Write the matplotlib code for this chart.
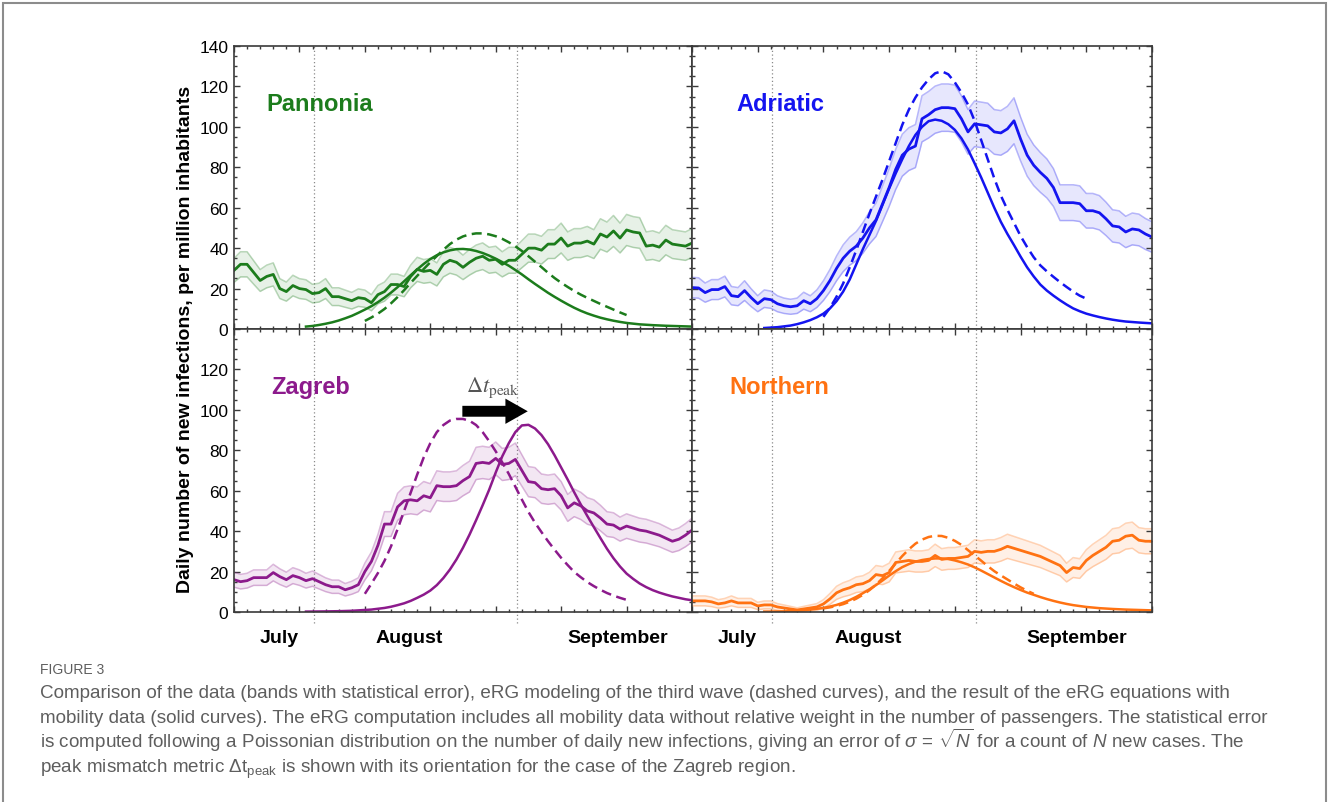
import matplotlib
matplotlib.use('Agg')

import matplotlib.pyplot as plt
import numpy as np
from matplotlib.patches import Rectangle

plt.rcParams['font.family'] = ['Liberation Sans', 'DejaVu Sans']
plt.rcParams['mathtext.fontset'] = 'custom'
plt.rcParams['mathtext.rm'] = 'Liberation Sans'
plt.rcParams['mathtext.it'] = 'Liberation Sans:italic'
plt.rcParams['mathtext.bf'] = 'Liberation Sans:bold'

# days counted from the left edge of each panel (about 20 July)
days = np.arange(71)
aug1 = 12.2
sep1 = 43.2

pannonia_data = [29, 32, 32, 28, 24, 26, 27, 20, 18.5, 21.5,
                 20, 19.5, 17.5, 18, 20, 16, 16, 15, 14, 15.5,
                 15, 13, 17, 18.5, 22, 22, 21, 26, 29.5, 28.5,
                 29, 27, 32, 34, 33, 30.5, 33, 35, 36, 34,
                 34.5, 32, 34, 34, 37, 40, 40, 39, 42, 42,
                 45, 41, 42.5, 42.5, 43.5, 42, 47, 45.5, 48.5, 45,
                 49, 48, 47.5, 41, 41.5, 40.5, 44, 42, 41.5, 41,
                 42.5]
adriatic_data = [20.5, 20.3, 18, 19.5, 19.5, 21, 16.5, 16, 19, 15.5,
                 12.5, 15, 14.5, 12.5, 11.5, 11, 11.5, 14, 12.5, 15,
                 19, 24, 30, 35, 38.5, 41, 45, 50, 54, 62,
                 70, 79, 86, 89, 90.5, 104, 106, 108.5, 109.5, 109.5,
                 109, 104, 97.5, 101.5, 101, 100.5, 97.5, 97, 99, 103,
                 94, 86, 81, 77.5, 74.5, 70, 62.5, 62.5, 62.5, 62,
                 58.5, 58.5, 57.5, 54.5, 51, 50.5, 48, 49.5, 49, 47,
                 45.5]
zagreb_data = [16, 15, 15.5, 17, 17, 17, 19.5, 17.5, 16, 18,
               17, 15.5, 16.5, 15, 13.5, 12.5, 12.5, 11, 12, 13.5,
               20, 25, 33, 43.5, 43.5, 52, 55, 55.5, 55, 57.5,
               56.5, 62.5, 62, 62, 62.5, 65, 67, 73.5, 74, 73.5,
               76, 73, 73.5, 75.5, 70, 64.5, 64, 61, 60.5, 61,
               57.5, 51.5, 54, 52.5, 50, 49, 46.5, 43.5, 43, 41,
               42.5, 41.5, 40.5, 40, 39, 38, 36.5, 35, 36, 38,
               40.5]
northern_data = [5.5, 5.5, 5.5, 5, 4, 4.5, 5.5, 4.5, 4.5, 4.5,
                 3, 3.5, 3.5, 2.5, 2, 1.5, 1, 1.5, 2, 2.5,
                 4, 6.5, 9.5, 11, 12, 13.5, 14, 15.5, 18.5, 18,
                 19.5, 24.5, 25, 25.5, 25, 25, 25.5, 28, 26, 26.5,
                 26.5, 27, 27.5, 30, 29.5, 30, 30, 31, 32.5, 31.5,
                 30.5, 29.5, 28.5, 27.5, 26, 24.5, 23, 19.5, 22, 21.5,
                 25.5, 28, 30, 32, 35, 35.5, 37.5, 38, 35.5, 35,
                 35]

# sigma = sqrt(N) on the counts, expressed per million inhabitants
pannonia_err = 1.1
adriatic_err = 1.12
zagreb_err = 0.93
northern_err = 1.05

# eRG with mobility data (solid)
pannonia_solid_x = [11, 12, 13, 14, 15, 16, 17, 18, 19, 20, 21, 22, 23, 24, 25, 26, 27, 28, 29, 30,
                    31, 32, 33, 34, 35, 36, 37, 38, 39, 40, 41, 42, 43, 44, 45, 46, 47, 48, 49, 50,
                    51, 52, 53, 54, 55, 56, 57, 58, 59, 60, 62, 64, 66, 68, 70]
pannonia_solid_y = [1.2, 1.5, 2, 2.6, 3.3, 4.2, 5.3, 6.5, 8, 9.6, 11.3, 13.3, 15.5, 18, 20.7, 23.6,
                    26.6, 29.5, 32.2, 34.6, 36.5, 37.9, 38.9, 39.5, 39.6, 39.3, 38.6, 37.6, 36.3,
                    34.8, 33.1, 31.3, 29.2, 27, 24.6, 22.3, 20.1, 17.9, 15.9, 14, 12.2, 10.5, 9,
                    7.7, 6.6, 5.6, 4.8, 4.1, 3.5, 3, 2.3, 1.9, 1.6, 1.4, 1.2]
adriatic_solid_x = [11, 12, 13, 14, 15, 16, 17, 18, 19, 20, 21, 22, 23, 24, 25, 26, 27, 28, 29, 30,
                    31, 32, 33, 34, 35, 36, 37, 38, 39, 40, 41, 42, 43, 44, 45, 46, 47, 48, 49, 50,
                    51, 52, 53, 54, 55, 56, 57, 58, 59, 60, 61, 62, 63, 64, 65, 66, 68, 70]
adriatic_solid_y = [0.5, 0.7, 0.9, 1.3, 1.7, 2.4, 3.3, 4.4, 5.8, 7.6, 10.2, 13.8, 18.5, 24.5, 32,
                    39.5, 46.5, 53.5, 61.5, 69.5, 77, 84, 90.5, 96, 100, 102.8, 103.6, 103, 101.3,
                    98.5, 94.3, 88.8, 82, 75, 67.5, 60, 53, 47, 41.5, 35.8, 30.5, 26, 22, 19, 16.5,
                    14.2, 12.1, 10.2, 8.8, 7.6, 6.7, 5.9, 5.2, 4.6, 4.1, 3.7, 3.2, 2.8]
zagreb_solid_x = [11, 14, 16, 18, 20, 21, 22, 23, 24, 25, 26, 27, 28, 29, 30, 31, 32, 33, 34, 35,
                  36, 37, 38, 39, 40, 41, 42, 43, 44, 45, 46, 47, 48, 49, 50, 51, 52, 53, 54, 55,
                  56, 57, 58, 59, 60, 61, 62, 63, 64, 65, 66, 67, 68, 69, 70]
zagreb_solid_y = [0.2, 0.3, 0.4, 0.6, 1, 1.2, 1.6, 2, 2.6, 3.4, 4.3, 5.5, 7, 8.6, 10.6, 13.3, 16.8,
                  21, 26, 31.8, 38.3, 45.4, 52.8, 60.5, 69, 77, 83.5, 89, 92.3, 92.6, 90.8, 87.5,
                  83, 77.5, 71.5, 65.5, 59.2, 53.2, 47.5, 42, 36.6, 31.3, 26.6, 22.5, 19, 16.4,
                  14.1, 12.3, 10.8, 9.6, 8.6, 7.7, 7, 6.3, 5.8]
northern_solid_x = [11, 14, 16, 18, 20, 21, 22, 23, 24, 25, 26, 27, 28, 29, 30, 31, 32, 33, 34, 35,
                    36, 37, 38, 39, 40, 41, 42, 43, 44, 45, 46, 47, 48, 49, 50, 51, 52, 53, 54, 55,
                    56, 57, 58, 60, 62, 64, 66, 68, 70]
northern_solid_y = [0.2, 0.3, 0.6, 1.2, 2, 2.7, 3.5, 4.6, 5.9, 7.5, 9.3, 11.2, 13.3, 15.6, 18, 20.2,
                    22.2, 23.7, 24.9, 25.7, 26.2, 26.5, 26.5, 26.2, 25.5, 24.6, 23.5, 22.1, 20.5,
                    18.8, 17.1, 15.4, 13.8, 12.3, 10.9, 9.6, 8.5, 7.4, 6.4, 5.5, 4.7, 4, 3.4, 2.5,
                    1.9, 1.5, 1.2, 1, 0.8]

# eRG third wave (dashed)
pannonia_dash_x = [20, 21, 22, 23, 24, 25, 26, 27, 28, 29, 30, 31, 32, 33, 34, 35, 36, 37, 38, 39,
                   40, 41, 42, 43, 44, 45, 46, 47, 48, 49, 50, 51, 52, 53, 54, 55, 56, 57, 58, 59, 60]
pannonia_dash_y = [4, 5.7, 7.6, 9.9, 12.7, 15.8, 19.2, 22.8, 26.3, 29.7, 33, 36.1, 39.2, 42, 44.2,
                   45.8, 46.8, 47.3, 47.3, 46.8, 45.9, 44.6, 42.9, 40.9, 38.6, 36, 33.3, 30.6,
                   27.8, 25.2, 22.9, 20.8, 18.8, 17, 15.4, 13.9, 12.4, 11, 9.6, 8.2, 6.9]
adriatic_dash_x = [20, 21, 22, 23, 24, 25, 26, 27, 28, 29, 30, 31, 32, 33, 34, 35, 36, 37, 38, 39,
                   40, 41, 42, 43, 44, 45, 46, 47, 48, 49, 50, 51, 52, 53, 54, 55, 56, 57, 58, 59, 60]
adriatic_dash_y = [6, 10.5, 16, 22.5, 30.5, 39, 48, 57, 65.5, 74, 83, 92, 101, 108.5, 114.5, 119.5,
                   123.5, 126.5, 127.5, 126, 122, 117, 111, 103, 93.5, 84, 74.5, 66, 59, 52.5, 46,
                   40.5, 35.5, 31.5, 28.5, 25.8, 23.2, 20.8, 18.5, 16.5, 15]
zagreb_dash_x = [20, 21, 22, 23, 24, 25, 26, 27, 28, 29, 30, 31, 32, 33, 34, 35, 36, 37, 38, 39,
                 40, 41, 42, 43, 44, 45, 46, 47, 48, 49, 50, 51, 52, 53, 54, 55, 56, 57, 58, 59, 60]
zagreb_dash_y = [9, 14, 19.3, 25.3, 32.5, 41, 50, 59, 68, 76.5, 83.5, 89, 92.5, 94.7, 95.5, 95.5,
                 94.6, 92.5, 89, 84.5, 79.5, 74, 68.3, 62, 55.6, 49.5, 44.2, 39.5, 35, 30.8, 26.8,
                 23.2, 19.8, 17.2, 14.8, 12.8, 11, 9.4, 8.1, 7, 6]
northern_dash_x = [20, 21, 22, 23, 24, 25, 26, 27, 28, 29, 30, 31, 32, 33, 34, 35, 36, 37, 38, 39,
                   40, 41, 42, 43, 44, 45, 46, 47, 48, 49, 50, 51, 52]
northern_dash_y = [1.8, 2.3, 3, 3.9, 5.1, 6.6, 8.5, 10.8, 13.5, 16.7, 20.3, 24, 27.7, 31, 33.8,
                   35.8, 37.1, 37.7, 37.6, 36.7, 35.2, 33.2, 30.6, 28, 25.4, 22.7, 20.2, 18.1,
                   16.1, 14.1, 12.2, 10.5, 9]

month_names = ['July', 'August', 'September']
month_pos = [6.9, 26.8, 58.6]

regions = [
    ('Pannonia', '#1c7c1c', pannonia_data, pannonia_err, pannonia_solid_x, pannonia_solid_y,
     pannonia_dash_x, pannonia_dash_y, 5.0),
    ('Adriatic', '#1414f0', adriatic_data, adriatic_err, adriatic_solid_x, adriatic_solid_y,
     adriatic_dash_x, adriatic_dash_y, 6.7),
    ('Zagreb', '#8c1a8c', zagreb_data, zagreb_err, zagreb_solid_x, zagreb_solid_y,
     zagreb_dash_x, zagreb_dash_y, 5.7),
    ('Northern', '#ff7212', northern_data, northern_err, northern_solid_x, northern_solid_y,
     northern_dash_x, northern_dash_y, 5.7),
]

W, H = 1329, 803
fig = plt.figure(figsize=(W / 100, H / 100), dpi=100)

xl = [234, 692, 234, 692]
xr = [692, 1152, 692, 1152]
yt = [47, 47, 330, 330]
yb = [330, 330, 613, 613]

spine_col = '#3a3a3a'

for i, (name, col, data, err, sx, sy, dx, dy, lx) in enumerate(regions):
    ax = fig.add_axes([xl[i] / W, 1 - yb[i] / H, (xr[i] - xl[i]) / W, (yb[i] - yt[i]) / H])
    data = np.array(data)
    sig = err * np.sqrt(data)
    lo = data - sig
    hi = data + sig
    ax.fill_between(days, lo, hi, color=col, alpha=0.1, lw=0)
    ax.plot(days, lo, color=col, alpha=0.3, lw=1.1)
    ax.plot(days, hi, color=col, alpha=0.3, lw=1.1)
    ax.plot(days, data, color=col, lw=2.0)
    ax.plot(sx, sy, color=col, lw=1.8)
    ax.plot(dx, dy, color=col, lw=1.8, dashes=(4, 2.2))

    bottom_row = i >= 2
    for xv in (aug1, sep1):
        ax.axvline(xv, ymin=-0.04 if bottom_row else 0, ymax=1, color='#8a8a8a',
                   lw=0.9, ls=(0, (1, 2)), clip_on=False, zorder=0.5)

    ax.set_xlim(0, 70)
    ax.set_ylim(0, 140)
    ax.set_xticks(np.arange(0, 71, 10))
    ax.set_xticks(np.arange(0, 71, 2), minor=True)
    ax.set_yticks(np.arange(0, 141, 20))
    ax.set_yticks(np.arange(0, 141, 5), minor=True)
    ax.set_xticklabels([])
    if i % 2 == 0:
        labs = [str(v) for v in range(0, 141, 20)]
        if bottom_row:
            labs[-1] = ''
        ax.set_yticklabels(labs)
    else:
        ax.set_yticklabels([])
    ax.tick_params(which='both', direction='in', top=True, right=True, color=spine_col,
                   labelsize=12.5, pad=4)
    ax.tick_params(which='major', length=4.5, width=1)
    ax.tick_params(which='minor', length=2.4, width=1)
    for sp in ax.spines.values():
        sp.set_color(spine_col)
        sp.set_linewidth(1.2)

    ax.text(lx, 111.5, name, color=col, fontsize=17, fontweight='bold', va='center')

    if bottom_row:
        tr = ax.get_xaxis_transform()
        for m, p in zip(month_names, month_pos):
            ax.text(p, -0.09, m, transform=tr, ha='center', va='center',
                    fontsize=14, fontweight='bold')

    if name == 'Zagreb':
        ax.annotate('', xy=(44.9, 99.3), xytext=(34.9, 99.3),
                    arrowprops=dict(arrowstyle='simple,head_length=1.15,head_width=1.3,tail_width=0.56',
                                    mutation_scale=14, color='black', lw=0,
                                    shrinkA=0, shrinkB=0))
        ax.text(39.6, 109.5, r'$\Delta t_{\mathrm{peak}}$', math_fontfamily='stix',
                color='#555555', fontsize=16, ha='center', va='baseline')

fig.text(185 / W, 1 - 339 / H, 'Daily number of new infections, per million inhabitants',
         rotation=90, ha='center', va='center', fontsize=14, fontweight='bold')

# caption
cap_col = '#5e5e5e'
fig.text(40 / W, 1 - 674 / H, 'FIGURE 3', fontsize=10, color=cap_col, va='baseline')
cap_lines = [
    'Comparison of the data (bands with statistical error), eRG modeling of the third wave '
    '(dashed curves), and the result of the eRG equations with',
    'mobility data (solid curves). The eRG computation includes all mobility data without '
    'relative weight in the number of passengers. The statistical error',
    r'is computed following a Poissonian distribution on the number of daily new infections, '
    r'giving an error of $\sigma\,=\,\sqrt{N}$ for a count of $N$ new cases. The',
    r'peak mismatch metric $\Delta\mathrm{t}_{\mathrm{peak}}$ is shown with its orientation '
    r'for the case of the Zagreb region.',
]
cap_y = [698, 723, 748, 773]
for line, yy in zip(cap_lines, cap_y):
    fig.text(40 / W, 1 - yy / H, line, fontsize=13.6, color=cap_col, va='baseline')

fig.add_artist(Rectangle((3 / W, -0.02), (1326 - 3) / W, 1.02 - 4 / H,
                         transform=fig.transFigure, fill=False, edgecolor='#8c8c8c', lw=1.5))

fig.savefig('out.png', dpi=100)
